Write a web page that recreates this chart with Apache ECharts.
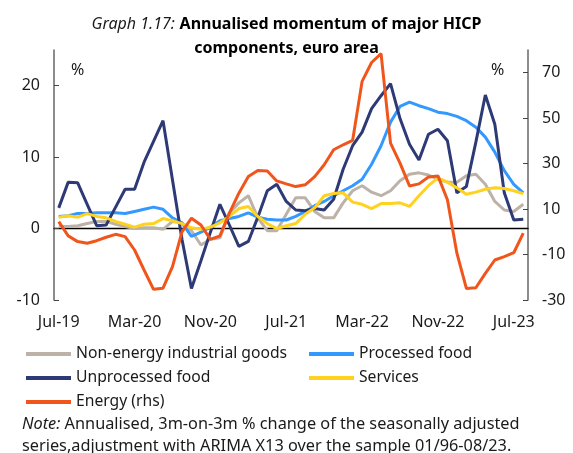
<!DOCTYPE html>
<html>
<head>
<meta charset="utf-8">
<script src="https://cdn.jsdelivr.net/npm/echarts@6/dist/echarts.min.js"></script>
<style>
  html, body { margin: 0; padding: 0; background: #fff; }
  #chart { width: 573px; height: 453px; }
</style>
</head>
<body>
<div id="chart"></div>
<script>
var months = ['Jul-19', 'Aug-19', 'Sep-19', 'Oct-19', 'Nov-19', 'Dec-19',
  'Jan-20', 'Feb-20', 'Mar-20', 'Apr-20', 'May-20', 'Jun-20', 'Jul-20', 'Aug-20', 'Sep-20', 'Oct-20', 'Nov-20', 'Dec-20',
  'Jan-21', 'Feb-21', 'Mar-21', 'Apr-21', 'May-21', 'Jun-21', 'Jul-21', 'Aug-21', 'Sep-21', 'Oct-21', 'Nov-21', 'Dec-21',
  'Jan-22', 'Feb-22', 'Mar-22', 'Apr-22', 'May-22', 'Jun-22', 'Jul-22', 'Aug-22', 'Sep-22', 'Oct-22', 'Nov-22', 'Dec-22',
  'Jan-23', 'Feb-23', 'Mar-23', 'Apr-23', 'May-23', 'Jun-23', 'Jul-23', 'Aug-23']

var nonEnergy = [0.3, 0.3, 0.4, 0.7, 1.0, 1.0, 0.6, 0.3, 0.0, 0.1,
  0.1, -0.1, 1.0, 0.8, -0.3, -2.3, -1.5, -1.3, 2.2, 3.6,
  4.6, 1.5, -0.3, -0.3, 2.0, 4.3, 4.3, 2.4, 1.5, 1.5,
  3.6, 5.3, 6.0, 5.1, 4.6, 5.3, 6.7, 7.6, 7.8, 7.5,
  6.9, 6.5, 6.5, 7.4, 7.6, 6.2, 3.8, 2.6, 2.4, 3.4]

var processed = [1.7, 1.8, 2.1, 2.1, 2.2, 2.2, 2.2, 2.1, 2.4, 2.7,
  3.0, 2.7, 1.5, 0.8, -1.1, -0.5, 0.2, 1.1, 1.4, 1.7,
  2.2, 1.6, 1.3, 1.2, 1.2, 1.7, 2.4, 3.2, 3.8, 4.6,
  5.3, 6.0, 6.9, 9.0, 11.6, 14.9, 17.1, 17.7, 17.2, 16.8,
  16.3, 16.1, 15.7, 15.1, 14.2, 12.8, 10.7, 8.1, 6.2, 5.0]

var unprocessed = [2.9, 6.5, 6.4, 3.4, 0.4, 0.5, 3.0, 5.5, 5.5, 9.3,
  12.2, 15.1, 6.8, -1.5, -8.4, -4.5, -0.5, 3.4, 0.5, -2.5,
  -1.8, 1.6, 5.3, 6.2, 3.8, 2.6, 2.5, 2.8, 2.6, 4.1,
  8.3, 11.6, 13.5, 16.8, 18.6, 20.3, 15.4, 11.8, 9.6, 13.2,
  13.9, 12.3, 5.0, 5.9, 12.1, 18.7, 14.6, 5.0, 1.2, 1.3]

var services = [1.6, 1.8, 1.6, 2.1, 1.7, 1.5, 1.0, 0.6, 0.2, 0.6,
  0.7, 1.4, 1.1, 0.7, 0.1, -0.1, 0.2, 0.8, 1.7, 2.8,
  3.1, 1.7, 0.7, 0.0, 0.4, 0.7, 2.0, 2.9, 4.6, 4.9,
  5.0, 3.7, 3.4, 2.8, 3.5, 3.5, 3.6, 3.1, 4.6, 6.0,
  7.1, 6.5, 5.7, 4.8, 5.1, 5.5, 5.7, 5.6, 5.3, 4.9]

var energy = [4.5, -1.8, -4.3, -5.0, -3.9, -2.4, -1.1, -2.1, -8.0, -16.8,
  -25.3, -24.8, -15.3, 0.0, 6.0, 3.0, -3.3, -1.8, 8.2, 17.0,
  24.3, 27.0, 26.8, 22.4, 21.1, 19.9, 20.7, 24.3, 29.5, 36.1,
  38.3, 40.2, 66.2, 74.5, 78.4, 39.0, 30.2, 20.2, 21.1, 24.1,
  24.6, 14.1, -9.4, -24.9, -24.6, -18.3, -12.4, -10.9, -9.2, -0.6]

var leftTicks = [-10, 0, 10, 20]
var rightTicks = [-30, -10, 10, 30, 50, 70]

var FONT = 'Noto Sans'
var TXT = '#1a1a1a'

function line (name, data, color, yIdx) {
  return {
    name: name,
    type: 'line',
    data: data,
    yAxisIndex: yIdx,
    symbol: 'none',
    lineStyle: { color: color, width: 3 },
    itemStyle: { color: color }
  }
}

var chart = echarts.init(document.getElementById('chart'))

var legendText = { fontSize: 15.7, color: TXT, fontFamily: FONT, lineHeight: 20 }

var option = {
  animation: false,
  textStyle: { fontFamily: FONT },
  title: {
    text: '{i|Graph 1.17:} {b|Annualised momentum of major HICP}\n{b|components, euro area}',
    left: 'center',
    top: 7,
    textStyle: {
      fontFamily: FONT,
      fontWeight: 'normal',
      lineHeight: 24,
      rich: {
        i: { fontStyle: 'italic', fontWeight: 'normal', fontSize: 16, color: TXT, fontFamily: FONT, lineHeight: 24 },
        b: { fontWeight: 'bold', fontSize: 16, color: '#000', fontFamily: FONT, lineHeight: 24 }
      }
    }
  },
  legend: [
    {
      left: 21, top: 339, orient: 'vertical', itemGap: 4,
      itemWidth: 45, itemHeight: 4, icon: 'rect',
      textStyle: legendText,
      data: ['Non-energy industrial goods', 'Unprocessed food', 'Energy (rhs)']
    },
    {
      left: 304, top: 339, orient: 'vertical', itemGap: 4,
      itemWidth: 45, itemHeight: 4, icon: 'rect',
      textStyle: legendText,
      data: ['Processed food', 'Services']
    }
  ],
  grid: { left: 54, right: 45, top: 50, bottom: 153 },
  xAxis: [
    {
      type: 'category',
      data: months,
      boundaryGap: true,
      axisLine: { onZero: true, onZeroAxisIndex: 0, lineStyle: { color: '#000', width: 1.3 } },
      axisTick: { inside: true, interval: 7, length: 5, lineStyle: { color: '#000' } },
      axisLabel: { show: false },
      splitLine: { show: false }
    },
    {
      type: 'category',
      data: months,
      boundaryGap: true,
      position: 'bottom',
      axisLine: { show: false, onZero: false },
      axisTick: { show: false },
      axisLabel: { interval: 7, margin: 14, fontSize: 16, color: TXT, fontFamily: FONT },
      splitLine: { show: false }
    }
  ],
  yAxis: [
    {
      type: 'value',
      position: 'left',
      min: -10,
      max: 25,
      axisLine: { show: true, lineStyle: { color: '#666', width: 1.5 } },
      axisTick: { show: true, inside: true, length: 5, customValues: leftTicks, lineStyle: { color: '#444' } },
      axisLabel: { customValues: leftTicks, margin: 14, fontSize: 16, color: TXT, fontFamily: FONT },
      splitLine: { show: false }
    },
    {
      type: 'value',
      position: 'right',
      min: -30,
      max: 80,
      axisLine: { show: true, lineStyle: { color: '#666', width: 1.5 } },
      axisTick: { show: true, inside: true, length: 5, customValues: rightTicks, lineStyle: { color: '#444' } },
      axisLabel: { customValues: rightTicks, margin: 14, fontSize: 16, color: TXT, fontFamily: FONT },
      splitLine: { show: false }
    }
  ],
  graphic: [
    { type: 'text', left: 71, top: 62, style: { text: '%', fontSize: 16, fill: TXT, fontFamily: FONT } },
    { type: 'text', left: 491, top: 62, style: { text: '%', fontSize: 16, fill: TXT, fontFamily: FONT } },
    {
      type: 'text', left: 22, top: 413,
      style: {
        text: '{i|Note:} Annualised, 3m-on-3m % change of the seasonally adjusted\nseries,adjustment with ARIMA X13 over the sample 01/96-08/23.',
        fontSize: 16.3, fill: TXT, fontFamily: FONT, lineHeight: 22,
        rich: { i: { fontStyle: 'italic', fontSize: 16.3, fill: TXT, fontFamily: FONT, lineHeight: 22 } }
      }
    }
  ],
  series: [
    line('Non-energy industrial goods', nonEnergy, '#bdb2a7', 0),
    line('Processed food', processed, '#3399ff', 0),
    line('Unprocessed food', unprocessed, '#2e3a75', 0),
    line('Services', services, '#ffd21f', 0),
    line('Energy (rhs)', energy, '#f0561c', 1)
  ]
}

chart.setOption(option, true)
</script>
</body>
</html>
